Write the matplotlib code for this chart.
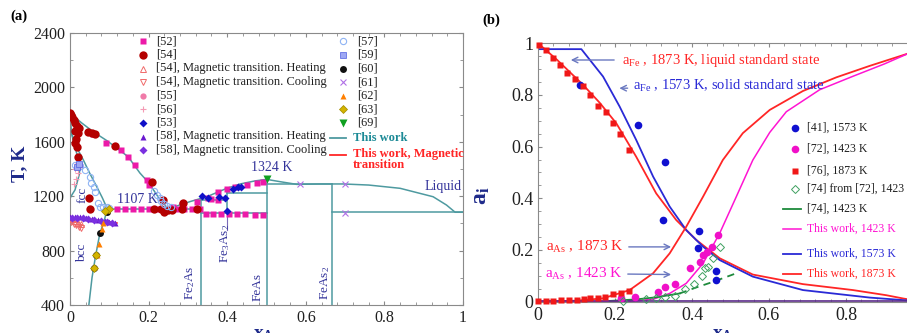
import numpy as np
import matplotlib
matplotlib.use("Agg")
import matplotlib.pyplot as plt
from matplotlib.ticker import MultipleLocator, FuncFormatter

plt.rcParams['font.family'] = 'Liberation Serif'
plt.rcParams['mathtext.fontset'] = 'custom'
plt.rcParams['mathtext.rm'] = 'Liberation Serif'
plt.rcParams['mathtext.it'] = 'Liberation Serif:italic'
plt.rcParams['mathtext.bf'] = 'Liberation Serif:bold'

# ---------------------------------------------------------------- (a) Fe-As phase diagram
# calculated phase boundaries
liq_fe_x = [0.0, 0.03, 0.06, 0.093, 0.12, 0.148, 0.178, 0.20, 0.215, 0.23, 0.25]
liq_fe_T = [1811, 1738, 1672, 1610, 1552, 1490, 1370, 1300, 1235, 1170, 1107]
liq_mid_x = [0.25, 0.305, 0.348, 0.399, 0.433, 0.47, 0.5]
liq_mid_T = [1107, 1160, 1196, 1258, 1290, 1312, 1324]
liq_as_x = [0.5, 0.534, 0.577, 0.636, 0.695, 0.76, 0.84, 0.924, 0.958, 0.98, 1.0]
liq_as_T = [1324, 1307, 1287, 1290, 1290, 1282, 1258, 1196, 1135, 1082, 1082]
sol_x = [0.0, 0.004, 0.015, 0.034, 0.05, 0.068, 0.082, 0.095]
sol_T = [1811, 1662, 1570, 1466, 1370, 1270, 1190, 1107]
gam_x = [0.004, 0.01, 0.017, 0.023, 0.0254, 0.0237, 0.018, 0.0127, 0.006, 0.0]
gam_T = [1660, 1590, 1515, 1460, 1417, 1360, 1300, 1246, 1215, 1185]
bcc_x = [0.095, 0.086, 0.076, 0.065, 0.056, 0.048]
bcc_T = [1107, 1010, 927, 760, 600, 400]

# invariant lines and compound lines: (x0, x1, T0, T1)
segments = [
    (0.095, 0.3335, 1107, 1107),
    (0.3335, 0.3335, 400, 1172),
    (0.3335, 0.4, 1172, 1172),
    (0.4, 0.4, 1074, 1221),
    (0.4, 0.5, 1221, 1221),
    (0.3335, 0.5, 1074, 1074),
    (0.5, 0.5, 400, 1324),
    (0.5, 0.667, 1287, 1287),
    (0.667, 0.667, 400, 1290),
    (0.667, 1.0, 1082, 1082),
]

mag_x = [0.0, 0.04, 0.08, 0.12]
mag_T = [1043, 1035, 1020, 1003]

# experimental points
e52_x = [0.059, 0.0916, 0.131, 0.148, 0.165, 0.195, 0.20,
         0.12, 0.14, 0.16, 0.18, 0.20, 0.22, 0.27, 0.29, 0.31, 0.33,
         0.263, 0.285, 0.322, 0.35, 0.377, 0.399, 0.42, 0.45, 0.475, 0.492, 0.377, 0.36,
         0.345, 0.365, 0.385, 0.405, 0.425, 0.445, 0.47, 0.49]
e52_T = [1656, 1589, 1540, 1490, 1429, 1319, 1280,
         1104, 1104, 1104, 1104, 1104, 1104, 1104, 1104, 1104, 1104,
         1123, 1135, 1160, 1185, 1233, 1251, 1268, 1282, 1295, 1307, 1172, 1178,
         1066, 1066, 1066, 1066, 1066, 1066, 1064, 1064]
e54_x = [0.0, 0.003, 0.006, 0.01, 0.013, 0.018, 0.022, 0.012, 0.021, 0.016, 0.013, 0.018, 0.021,
         0.047, 0.055, 0.064, 0.115, 0.208, 0.237, 0.232, 0.24, 0.25, 0.26, 0.288, 0.284,
         0.322, 0.049, 0.051, 0.215]
e54_T = [1811, 1795, 1780, 1760, 1736, 1715, 1700, 1680, 1662, 1620, 1589, 1560, 1491,
         1672, 1668, 1660, 1569, 1307, 1172, 1104, 1085, 1100, 1100, 1148, 1104,
         1104, 1189, 1107, 1104]
e54h_x = [0.0, 0.006, 0.012, 0.02, 0.028]
e54h_T = [1040, 1030, 1018, 1003, 992]
e54c_x = [0.003, 0.009, 0.015, 0.022, 0.028]
e54c_T = [1012, 997, 985, 976, 968]
e55_x = [0.017, 0.025, 0.021]
e55_T = [1417, 1429, 1440]
e56_x = [0.012, 0.021, 0.015, 0.01]
e56_T = [1400, 1370, 1330, 1290]
e53_x = [0.335, 0.352, 0.38, 0.394, 0.4155, 0.428, 0.435, 0.399]
e53_T = [1201, 1190, 1195, 1184, 1254, 1266, 1270, 1090]
e58h_x = [0.0, 0.012, 0.025, 0.04, 0.055, 0.07, 0.088, 0.1, 0.115]
e58h_T = [1048, 1046, 1044, 1040, 1034, 1027, 1015, 1008, 1004]
e58c_x = [0.006, 0.018, 0.032, 0.047, 0.062, 0.078, 0.094, 0.108]
e58c_T = [1042, 1041, 1038, 1033, 1027, 1020, 1010, 1005]
e57_x = [0.012, 0.025, 0.038, 0.05, 0.053, 0.06, 0.064, 0.07, 0.076, 0.085, 0.095, 0.1,
         0.215, 0.222, 0.228, 0.232, 0.24, 0.248, 0.256]
e57_T = [1430, 1420, 1393, 1344, 1300, 1270, 1230, 1147, 1123, 1118, 1118, 1115,
         1240, 1210, 1190, 1165, 1145, 1130, 1120]
e59_x = [0.019, 0.022]
e59_T = [1417, 1440]
e60_x = [0.093, 0.0763, 0.0662, 0.061]
e60_T = [1081, 926, 768, 670]
e61_x = [0.585, 0.70, 0.70]
e61_T = [1287, 1290, 1080]
e62_x = [0.095, 0.085, 0.081, 0.075, 0.068, 0.062]
e62_T = [1100, 1000, 960, 850, 770, 680]
e63_x = [0.1, 0.09, 0.066, 0.061]
e63_T = [1107, 1090, 770, 670]
e69_x = [0.5]
e69_T = [1326]

# ---------------------------------------------------------------- (b) activities
aFe1873_x = [0.0, 0.05, 0.117, 0.16, 0.2035, 0.255, 0.307, 0.359, 0.411, 0.472, 0.558, 0.688, 0.818, 0.905, 0.95, 1.0]
aFe1873_y = [1.0, 0.935, 0.839, 0.77, 0.690, 0.561, 0.419, 0.316, 0.239, 0.168, 0.105, 0.068, 0.045, 0.025, 0.012, 0.0]
aFe1573_x = [0.0, 0.1126, 0.169, 0.212, 0.255, 0.299, 0.342, 0.385, 0.4286, 0.472, 0.558, 0.688, 0.861, 0.95, 1.0]
aFe1573_y = [0.977, 0.977, 0.871, 0.755, 0.626, 0.484, 0.368, 0.277, 0.213, 0.161, 0.097, 0.045, 0.016, 0.006, 0.0]
aAs1873_x = [0.0, 0.1, 0.169, 0.238, 0.299, 0.342, 0.385, 0.4286, 0.48, 0.532, 0.602, 0.688, 0.775, 0.861, 0.957, 1.0]
aAs1873_y = [0.0, 0.004, 0.013, 0.045, 0.110, 0.187, 0.290, 0.406, 0.548, 0.652, 0.742, 0.815, 0.868, 0.912, 0.958, 0.985]
aAs1423_x = [0.0, 0.25, 0.3, 0.342, 0.385, 0.4286, 0.472, 0.515, 0.558, 0.602, 0.645, 0.7316, 0.818, 0.9, 1.0]
aAs1423_y = [0.0, 0.002, 0.01, 0.032, 0.071, 0.148, 0.265, 0.406, 0.548, 0.655, 0.735, 0.82, 0.872, 0.92, 0.985]
g74_x = [0.186, 0.255, 0.307, 0.368]
g74_y = [0.003, 0.009, 0.017, 0.032]
g74d_x = [0.368, 0.411, 0.455, 0.515]
g74d_y = [0.032, 0.055, 0.077, 0.110]

p41_x = [0.108, 0.26, 0.329, 0.325, 0.418, 0.4156, 0.463, 0.463]
p41_y = [0.839, 0.684, 0.542, 0.316, 0.275, 0.206, 0.120, 0.084]
p72_x = [0.2165, 0.251, 0.312, 0.329, 0.355, 0.396, 0.4216, 0.4286, 0.439, 0.453, 0.4675]
p72_y = [0.015, 0.019, 0.037, 0.055, 0.068, 0.129, 0.154, 0.181, 0.194, 0.213, 0.258]
p76_x = [0.003, 0.0216, 0.039, 0.056, 0.076, 0.095, 0.117, 0.134, 0.156, 0.176, 0.195, 0.214, 0.236,
         0.0, 0.02, 0.04, 0.06, 0.08, 0.10, 0.12, 0.135, 0.155, 0.175, 0.195, 0.215, 0.237]
p76_y = [0.994, 0.974, 0.942, 0.916, 0.886, 0.861, 0.835, 0.80, 0.757, 0.735, 0.69, 0.648, 0.587,
         0.002, 0.003, 0.004, 0.005, 0.006, 0.008, 0.010, 0.013, 0.015, 0.020, 0.028, 0.035, 0.042]
p74_x = [0.221, 0.281, 0.307, 0.329, 0.355, 0.381, 0.404, 0.427, 0.433, 0.442, 0.455, 0.472]
p74_y = [0.004, 0.010, 0.015, 0.017, 0.023, 0.048, 0.067, 0.099, 0.129, 0.135, 0.168, 0.21]

teal = '#4e9aa0'
navy = '#33339a'
red = '#ff2626'
blue = '#2a2ad6'
mag = '#ff14d2'
green = '#1e8a3c'

fig = plt.figure(figsize=(9.07, 3.33), dpi=100)
ax = fig.add_axes([70/907, 1 - 305/333, 393/907, 272/333])
bx = fig.add_axes([538/907, 1 - 301.7/333, 385/907, 258.5/333])

fmt = FuncFormatter(lambda v, p: '%g' % round(v, 3))


def style_axes(a, size):
    for s in a.spines.values():
        s.set_color('#8a8a8a')
        s.set_linewidth(0.8)
    a.tick_params(which='both', direction='in', top=True, right=True,
                  colors='#8a8a8a', labelcolor='#202020', labelsize=size)
    a.tick_params(which='major', length=3)
    a.tick_params(which='minor', length=2)
    a.xaxis.set_major_formatter(fmt)
    a.yaxis.set_major_formatter(fmt)


# ---- (a)
lw = 1.1
for xs, Ts in [(liq_fe_x, liq_fe_T), (liq_mid_x, liq_mid_T), (liq_as_x, liq_as_T),
               (sol_x, sol_T), (gam_x, gam_T), (bcc_x, bcc_T)]:
    ax.plot(xs, Ts, color=teal, lw=lw, zorder=2)
for x0, x1, T0, T1 in segments:
    ax.plot([x0, x1], [T0, T1], color=teal, lw=lw, zorder=2)
ax.plot(mag_x, mag_T, color=red, lw=1.0, zorder=2)

series_a = [
    (e52_x, e52_T, dict(marker='s', color='#ec1aa8', ms=4.8, mec='none'), '[52]'),
    (e54_x, e54_T, dict(marker='o', color='#b40000', ms=6, mec='none'), '[54]'),
    (e54h_x, e54h_T, dict(marker='^', color='none', ms=5, mec='#f06a6a', mew=0.7), '[54], Magnetic transition. Heating'),
    (e54c_x, e54c_T, dict(marker='v', color='none', ms=5, mec='#f06a6a', mew=0.7), '[54], Magnetic transition. Cooling'),
    (e55_x, e55_T, dict(marker='o', color='#f07aa8', ms=4.5, mec='none'), '[55]'),
    (e56_x, e56_T, dict(marker='+', color='#f49ab4', ms=5, mew=0.8), '[56]'),
    (e53_x, e53_T, dict(marker='D', color='#1010c8', ms=4, mec='none'), '[53]'),
    (e58h_x, e58h_T, dict(marker='^', color='#6a18d0', ms=4.5, mec='none'), '[58], Magnetic transition. Heating'),
    (e58c_x, e58c_T, dict(marker='D', color='#7a30e0', ms=3.6, mec='none'), '[58], Magnetic transition. Cooling'),
    (e57_x, e57_T, dict(marker='o', color='none', ms=4.5, mec='#8fb4f4', mew=0.8), '[57]'),
    (e59_x, e59_T, dict(marker='s', color='#9ea8f4', ms=4.5, mec='#5060e0', mew=0.5), '[59]'),
    (e60_x, e60_T, dict(marker='o', color='#101010', ms=5, mec='none'), '[60]'),
    (e61_x, e61_T, dict(marker='x', color='#b070e6', ms=4.5, mew=0.8), '[61]'),
    (e62_x, e62_T, dict(marker='^', color='#ff7f00', ms=5, mec='none'), '[62]'),
    (e63_x, e63_T, dict(marker='D', color='#d4b400', ms=4.2, mec='#a08a00', mew=0.5), '[63]'),
    (e69_x, e69_T, dict(marker='v', color='#10a020', ms=5.5, mec='none'), '[69]'),
]
for xs, Ts, kw, lab in series_a:
    ax.plot(xs, Ts, ls='none', zorder=3, **kw)

ax.set_xlim(0, 1)
ax.set_ylim(400, 2400)
ax.xaxis.set_major_locator(MultipleLocator(0.2))
ax.xaxis.set_minor_locator(MultipleLocator(0.04))
ax.yaxis.set_major_locator(MultipleLocator(400))
ax.yaxis.set_minor_locator(MultipleLocator(200))
style_axes(ax, 11.5)

# legend of panel (a), two columns of marker + label
row_h = 13.6 / 272
y0 = (305 - 41.3) / 272
for i, (xs, Ts, kw, lab) in enumerate(series_a):
    if i < 9:
        mx, tx, yy = (143 - 70) / 393, (156 - 70) / 393, y0 - i * row_h
    else:
        mx, tx, yy = (343 - 70) / 393, (357 - 70) / 393, y0 - (i - 9) * row_h
    ax.plot([mx], [yy], ls='none', transform=ax.transAxes, clip_on=False, **kw)
    ax.text(tx, yy, lab, transform=ax.transAxes, fontsize=8.9, va='center', ha='left', color='#202020')
ax.plot([(330 - 70) / 393, (346 - 70) / 393], [(305 - 138) / 272] * 2, color=teal, lw=1.3,
        transform=ax.transAxes, clip_on=False)
ax.text((353 - 70) / 393, (305 - 138) / 272, 'This work', transform=ax.transAxes, fontsize=9,
        fontweight='bold', color='#1c8a96', va='center')
ax.plot([(330 - 70) / 393, (346 - 70) / 393], [(305 - 154.5) / 272] * 2, color=red, lw=1.3,
        transform=ax.transAxes, clip_on=False)
ax.text((353 - 70) / 393, (305 - 147.5) / 272, 'This work, Magnetic\ntransition', transform=ax.transAxes,
        fontsize=9, fontweight='bold', color=red, va='top', linespacing=0.95)

# phase labels
ax.text(0.12, 1125, '1107 K', color=navy, fontsize=10, va='bottom')
ax.text(0.514, 1365, '1324 K', color=navy, fontsize=10, ha='center', va='bottom')
ax.text(0.949, 1268, 'Liquid', color=navy, fontsize=10, ha='center', va='center')
ax.text(0.031, 1209, 'fcc', color=navy, fontsize=9.5, rotation=90, ha='center', va='center')
ax.text(0.031, 782, 'bcc', color=navy, fontsize=9.5, rotation=90, ha='center', va='center')
ax.text(0.305, 562, r'Fe$_2$As', color=navy, fontsize=9.5, rotation=90, ha='center', va='center')
ax.text(0.478, 533, 'FeAs', color=navy, fontsize=9.5, rotation=90, ha='center', va='center')
ax.text(0.649, 562, r'FeAs$_2$', color=navy, fontsize=9.5, rotation=90, ha='center', va='center')
ax.text(0.394, 850, r'Fe$_3$As$_2$', color=navy, fontsize=9.5, rotation=90, ha='center', va='center')
ax.plot([0.4, 0.4], [1062, 952], color='#7a6ab8', lw=0.8)

ax.set_ylabel('T, K', fontsize=14, fontweight='bold', color='#1e2a8a')
ax.yaxis.set_label_coords(-0.107, 0.52)
ax.set_xlabel(r'$\mathbf{x}_{\mathbf{As}}$', fontsize=14, color='#1e2a8a')
ax.xaxis.set_label_coords(0.5, -0.077)
fig.text(10 / 907, 1 - 16 / 333, '(a)', fontsize=10.5, fontweight='bold', va='center')

# ---- (b)
bx.plot(aFe1873_x, aFe1873_y, color=red, lw=1.3)
bx.plot(aFe1573_x, aFe1573_y, color=blue, lw=1.3)
bx.plot(aAs1873_x, aAs1873_y, color=red, lw=1.3)
bx.plot(aAs1423_x, aAs1423_y, color=mag, lw=1.1)
bx.plot(g74_x, g74_y, color=green, lw=1.3)
bx.plot(g74d_x, g74d_y, color=green, lw=1.3, ls=(0, (4, 3)))
bx.axhline(0.0015, color='#5a2a8a', lw=1.2)

bx.plot(p41_x, p41_y, 'o', color='#1010d0', ms=5.5, mec='none', clip_on=False, zorder=4)
bx.plot(p72_x, p72_y, 'o', color='#f010c8', ms=5.5, mec='none', clip_on=False, zorder=4)
bx.plot(p76_x, p76_y, 's', color='#f01818', ms=3.8, mec='none', clip_on=False, zorder=4)
bx.plot(p74_x, p74_y, 'D', color='none', ms=3.8, mec='#3fa060', mew=0.7, clip_on=False, zorder=4)

bx.set_xlim(0, 1)
bx.set_ylim(0, 1)
bx.xaxis.set_major_locator(MultipleLocator(0.2))
bx.xaxis.set_minor_locator(MultipleLocator(0.04))
bx.yaxis.set_major_locator(MultipleLocator(0.2))
bx.yaxis.set_minor_locator(MultipleLocator(0.05))
style_axes(bx, 13)

arrow = dict(arrowstyle='->', color='#6a78c0', lw=1.0)
bx.annotate('', xy=(0.078, 0.935), xytext=(0.205, 0.935), arrowprops=arrow)
bx.text(0.218, 0.935, r'a$_{\rm Fe}$ , 1873 K, liquid standard state', color=red, fontsize=10.5, va='center')
bx.annotate('', xy=(0.204, 0.826), xytext=(0.240, 0.826), arrowprops=arrow)
bx.text(0.247, 0.834, r'a$_{\rm Fe}$ , 1573 K, solid standard state', color=blue, fontsize=10.5, va='center')
bx.annotate('', xy=(0.353, 0.212), xytext=(0.2286, 0.212), arrowprops=arrow)
bx.text(0.222, 0.212, r'a$_{\rm As}$ , 1873 K', color=red, fontsize=11, va='center', ha='right')
bx.annotate('', xy=(0.353, 0.105), xytext=(0.226, 0.107), arrowprops=arrow)
bx.text(0.220, 0.107, r'a$_{\rm As}$ , 1423 K', color=mag, fontsize=11, va='center', ha='right')

# legend of panel (b)
leg_b = [
    (dict(marker='o', color='#1010d0', ms=5.5, mec='none', ls='none'), '[41], 1573 K', '#202020'),
    (dict(marker='o', color='#f010c8', ms=5.5, mec='none', ls='none'), '[72], 1423 K', '#202020'),
    (dict(marker='s', color='#f01818', ms=3.8, mec='none', ls='none'), '[76], 1873 K', '#202020'),
    (dict(marker='D', color='none', ms=3.8, mec='#3fa060', mew=0.7, ls='none'), '[74] from [72], 1423 K', '#202020'),
    (dict(color=green, lw=1.3), '[74], 1423 K', '#202020'),
    (dict(color=mag, lw=1.1), 'This work, 1423 K', mag),
    (dict(color=blue, lw=1.3), 'This work, 1573 K', blue),
    (dict(color=red, lw=1.3), 'This work, 1873 K', red),
]
leg_y = [128, 149, 170.5, 189, 209, 229, 254, 274]
for (kw, lab, c), py in zip(leg_b, leg_y):
    yy = (301.7 - py) / 258.5
    if 'marker' in kw:
        bx.plot([(795 - 538) / 385], [yy], transform=bx.transAxes, clip_on=False, **kw)
    else:
        bx.plot([(783 - 538) / 385, (801 - 538) / 385], [yy, yy], transform=bx.transAxes, clip_on=False, **kw)
    bx.text((807 - 538) / 385, yy, lab, transform=bx.transAxes, fontsize=8.5, color=c, va='center')

bx.set_ylabel(r'$\mathbf{a}_{\mathbf{i}}$', fontsize=17, color='#1e2a8a', rotation=90)
bx.yaxis.set_label_coords(-0.12, 0.41)
bx.set_xlabel(r'$\mathbf{x}_{\mathbf{As}}$', fontsize=14, color='#1e2a8a')
bx.xaxis.set_label_coords(0.486, -0.094)
fig.text(482 / 907, 1 - 20 / 333, '(b)', fontsize=10.5, fontweight='bold', va='center')

fig.savefig('out.png', dpi=100)
